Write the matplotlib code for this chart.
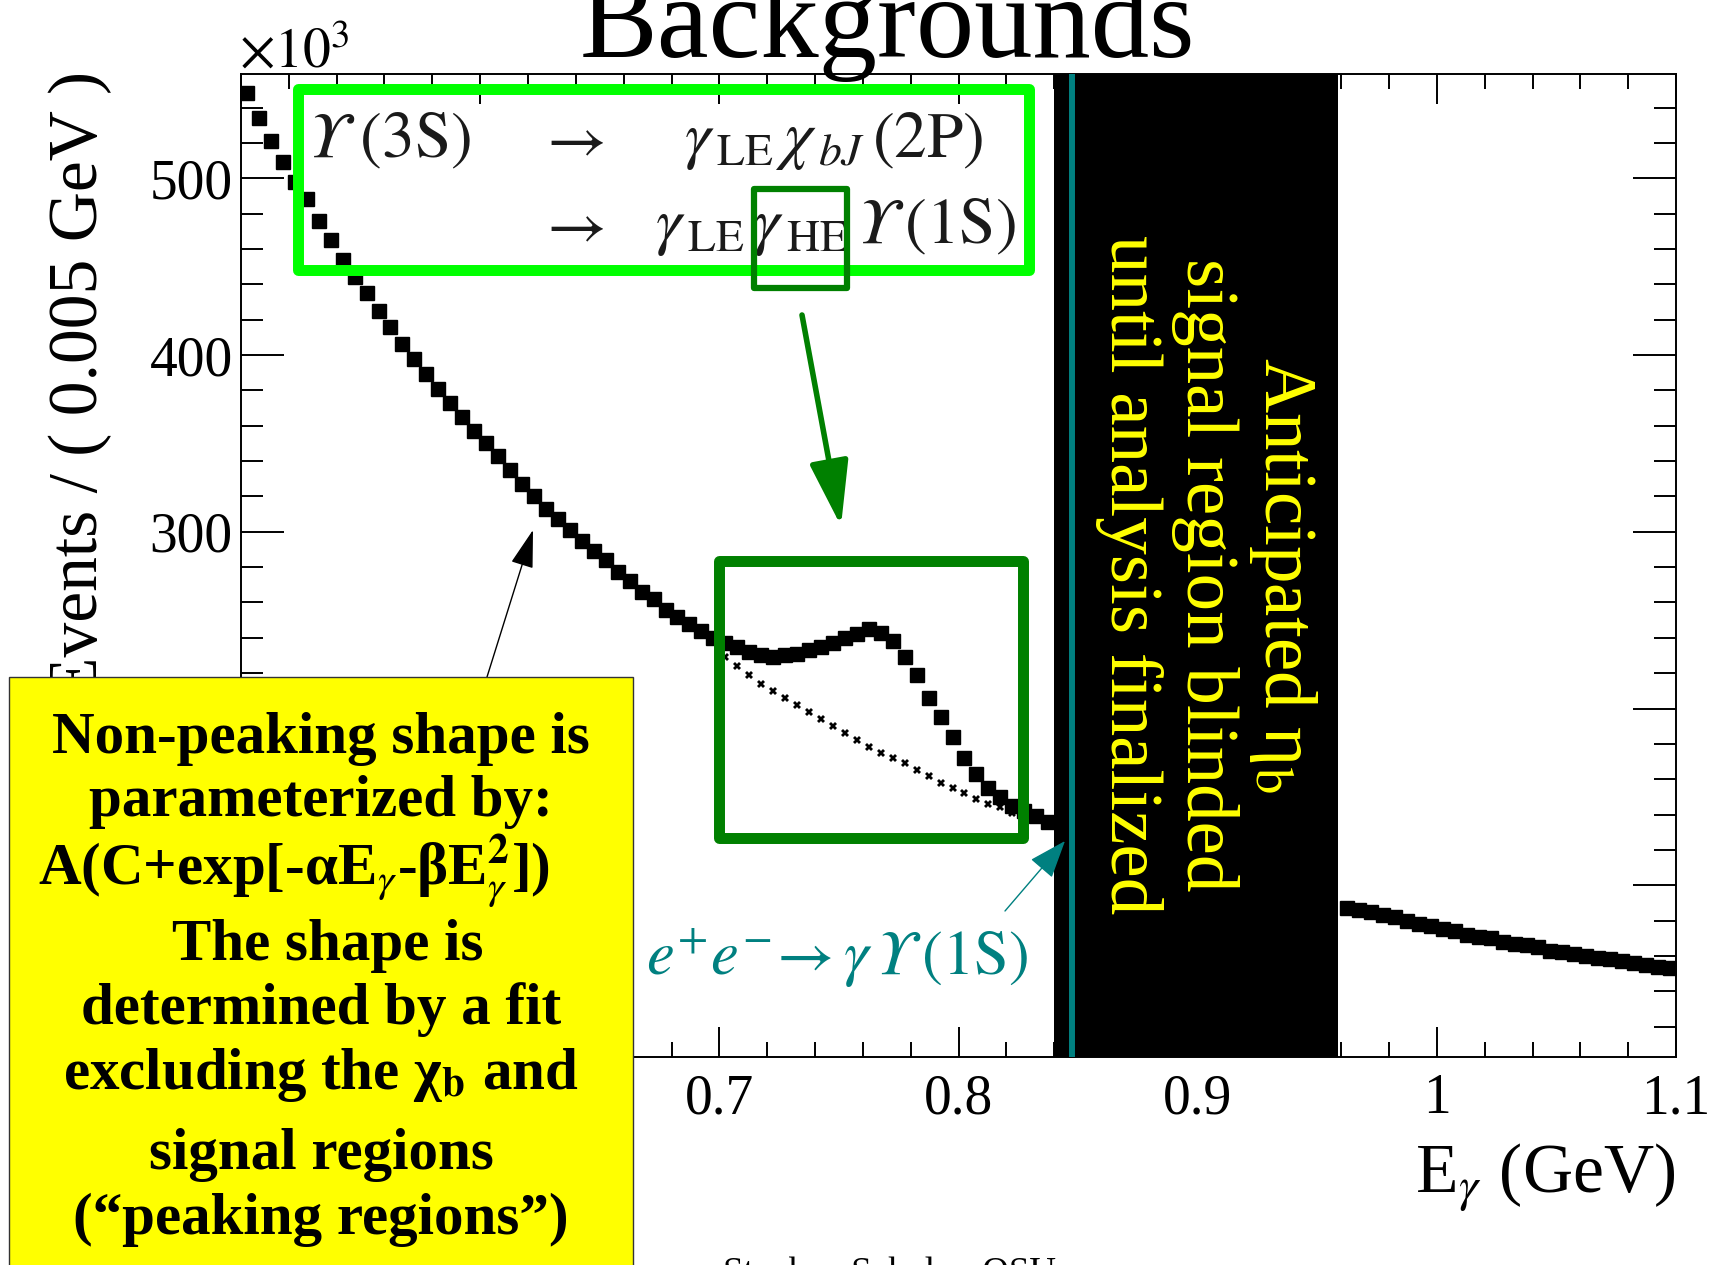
import matplotlib
matplotlib.use('Agg')
import numpy as np
import matplotlib.pyplot as plt
from matplotlib.patches import Rectangle
from matplotlib.ticker import MultipleLocator, FuncFormatter

plt.rcParams['font.family'] = ['Liberation Serif', 'DejaVu Serif']
plt.rcParams['mathtext.fontset'] = 'stix'

# photon energy spectrum, events (x10^3) per 0.005 GeV bin
bin_width = 0.005
e_low = np.arange(68) * bin_width + 0.5025          # 0.50 - 0.84 GeV
n_low = [548, 534, 521, 509, 498, 488, 476, 465, 454, 444,
         435, 425, 416, 406, 398, 389, 381, 373, 365, 357,
         350, 343, 335, 327, 320, 313, 307, 301, 295, 289,
         284, 277, 272, 266, 262, 256, 252, 248, 244, 240,
         237, 235, 232, 230, 229, 230, 231, 233, 235, 237,
         240, 242, 245, 243, 238, 229, 219, 206, 195, 184,
         172, 163, 155, 150, 145, 142, 139, 136]

# non-peaking shape under the chi_b(2P) peak
e_bkg = np.arange(28) * bin_width + 0.7025
n_bkg = [229, 224, 219, 214, 210, 206, 202, 198, 194, 190,
         186, 182, 178, 175, 172, 169, 165, 162, 158, 155,
         152, 149, 146, 144, 141, 139, 137, 135]

# above the blinded region
e_high = np.arange(28) * bin_width + 0.9625
n_high = [87, 86, 85, 83, 82, 80, 78, 77, 75, 74,
          72, 71, 70, 68, 67, 66, 65, 63, 62, 61,
          60, 59, 58, 57, 56, 55, 54, 53]

blind_lo, blind_hi = 0.84, 0.9585
isr_energy = 0.8473

W, H = 1717, 1265
fig = plt.figure(figsize=(W / 100, H / 100), dpi=100)
ax = fig.add_axes([241 / W, 1 - 1056.7 / H, (1676 - 241) / W, (1056.7 - 74) / H])

ax.plot(e_low, n_low, 's', ms=10, color='black', zorder=2)
ax.plot(e_high, n_high, 's', ms=10, color='black', zorder=2)
ax.plot(e_bkg, n_bkg, 'X', ms=5.5, color='black', mew=0, zorder=2)

ax.axvspan(blind_lo, blind_hi, color='black', zorder=3, lw=0)
ax.axvline(isr_energy, color='#008080', lw=4.3, zorder=4)

ax.set_xlim(0.5, 1.1)
ax.set_ylim(3, 559)
ax.xaxis.set_major_locator(MultipleLocator(0.1))
ax.xaxis.set_minor_locator(MultipleLocator(0.02))
ax.yaxis.set_major_locator(MultipleLocator(100))
ax.yaxis.set_minor_locator(MultipleLocator(20))
ax.xaxis.set_major_formatter(FuncFormatter(lambda v, p: '%g' % round(v, 2)))
ax.tick_params(which='both', direction='in', top=True, right=True,
               width=1.4, labelsize=40, colors='black')
ax.tick_params(axis='x', which='major', length=21.6, pad=12)
ax.tick_params(axis='x', which='minor', length=10.8)
ax.tick_params(axis='y', which='major', length=31, pad=6)
ax.tick_params(axis='y', which='minor', length=16)
for s in ax.spines.values():
    s.set_linewidth(1.4)

# overlay in pixel coordinates for the slide annotations
ov = fig.add_axes([0, 0, 1, 1])
ov.set_xlim(0, W)
ov.set_ylim(H, 0)
ov.axis('off')

ov.text(887, 57, 'Backgrounds', fontsize=84, ha='center', va='baseline')
ov.text(239, 68, r'$\times10^{3}$', fontsize=40, ha='left', va='baseline')
ov.text(80, 71, 'Events / ( 0.005 GeV )', fontsize=50, rotation=90,
        ha='center', va='top')
ov.text(1675, 1193, r'E$_{\gamma}$ (GeV)', fontsize=50, ha='right', va='baseline')

# decay chain box
txt = '#1a1a1a'
chain_fs = 47
ov.add_patch(Rectangle((298, 89), 731, 181, fill=False, ec='#00ff00', lw=7.9,
                       joinstyle='round', zorder=5))
ov.text(308, 157, r'$ϒ\;(3\mathrm{S})$', fontsize=chain_fs, color=txt, va='baseline')
ov.text(537, 157, r'$\rightarrow$', fontsize=chain_fs, color=txt, va='baseline')
ov.text(684, 157, r'$\gamma_{\,\mathrm{LE}}\,\chi_{\,bJ}\,(2\mathrm{P})$',
        fontsize=chain_fs, color=txt, va='baseline')
ov.text(537, 243, r'$\rightarrow$', fontsize=chain_fs, color=txt, va='baseline')
ov.text(655, 243,
        r'$\gamma_{\,\mathrm{LE}}\,\gamma_{\,\mathrm{HE}}\,ϒ\,(1\mathrm{S})$',
        fontsize=chain_fs, color=txt, va='baseline')

ov.add_patch(Rectangle((754, 189), 93, 99, fill=False, ec='#008000', lw=4.5,
                       joinstyle='round', zorder=5))
ov.annotate('', xy=(841, 526), xytext=(802, 315),
            arrowprops=dict(arrowstyle='-|>,head_length=2.0,head_width=0.6',
                            mutation_scale=20, lw=4, color='#008000',
                            shrinkA=0, shrinkB=0))
ov.add_patch(Rectangle((719, 561), 303.5, 277, fill=False, ec='#008000', lw=7.9,
                       joinstyle='round', zorder=5))

# ISR annotation
ov.text(646, 975, r'$e^{+}e^{-}\!\rightarrow\gamma\,ϒ\,(1\mathrm{S})$', fontsize=45,
        color='#008080', va='baseline')
ov.annotate('', xy=(1065, 841), xytext=(1005, 911),
            arrowprops=dict(arrowstyle='-|>,head_length=1.2,head_width=0.45',
                            mutation_scale=20, lw=1, color='#008080',
                            shrinkA=0, shrinkB=0))

# blinded region label
ov.text(1207, 575, 'Anticipated η$_{\\mathrm{b}}$\nsignal region blinded\n'
        'until analysis finalized', fontsize=54, color='#ffff00', rotation=270,
        ha='center', va='center', multialignment='center', linespacing=1.15)

# fit description box
ov.annotate('', xy=(533, 530), xytext=(487, 677),
            arrowprops=dict(arrowstyle='-|>,head_length=1.2,head_width=0.36',
                            mutation_scale=20, lw=1, color='black',
                            shrinkA=0, shrinkB=0))
ov.add_patch(Rectangle((9, 677), 624, 620, fc='#ffff00', ec='#333333', lw=1,
                       zorder=6))
box_lines = [
    (321, 753, 'Non-peaking shape is', 'center'),
    (321, 816, 'parameterized by:', 'center'),
    (38, 885, r'A(C+exp[-αE$_{\gamma}$-βE$_{\gamma}^{\mathbf{2}}$])', 'left'),
    (328, 960, 'The shape is', 'center'),
    (321, 1024, 'determined by a fit', 'center'),
    (321, 1089, r'excluding the χ$_{\mathbf{b}}$ and', 'center'),
    (321, 1169, 'signal regions', 'center'),
    (321, 1234, '(“peaking regions”)', 'center'),
]
for x, y, s, ha in box_lines:
    ov.text(x, y, s, fontsize=42.5, fontweight='bold', ha=ha, va='baseline',
            zorder=7)

ov.text(723, 1283, 'Stephen Sekula - OSU', fontsize=26.6, va='baseline')

fig.savefig('out.png', dpi=100)
